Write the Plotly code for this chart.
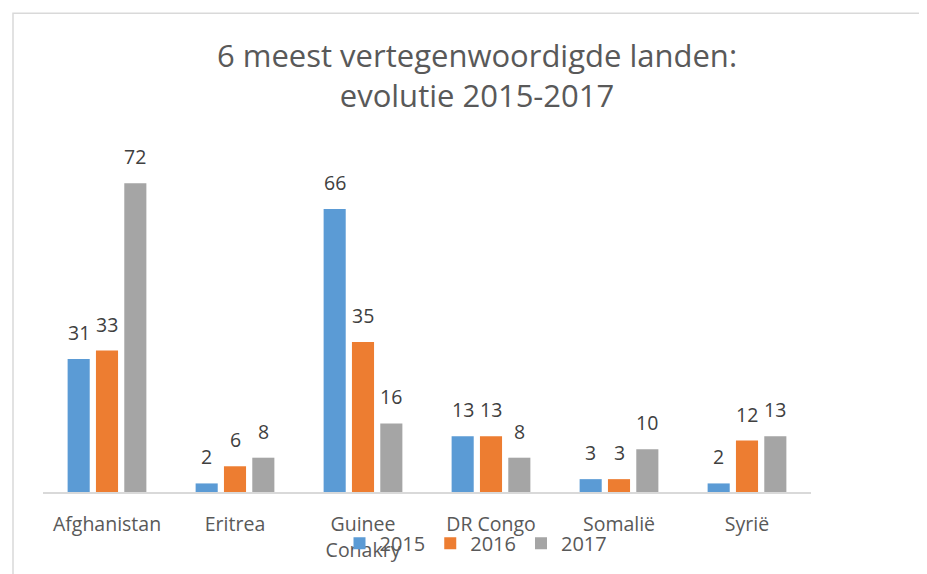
import plotly.graph_objects as go

categories = ["Afghanistan", "Eritrea", "Guinee<br>Conakry", "DR Congo", "Somalië", "Syrië"]
series_names = ["2015", "2016", "2017"]
values_2015 = [31, 2, 66, 13, 3, 2]
values_2016 = [33, 6, 35, 13, 3, 12]
values_2017 = [72, 8, 16, 8, 10, 13]
colors = ["#5B9BD5", "#ED7D31", "#A5A5A5"]

# page is rendered with an 8px body margin: figure coords = page coords - 8
OFF = 8
W, H = 927 - OFF, 574 - OFF
ml = 43 - OFF
plot_w = 768
mr = W - ml - plot_w
plot_h = 345
mb = H - (493.5 - OFF)
mt = H - mb - plot_h

bargap = 0.336
cat_px = plot_w / len(categories)
slot_px = cat_px * (1 - bargap) / len(series_names)

def px_to_paper_x(px):
    return (px - OFF - ml) / plot_w

def px_to_paper_y(py):
    return (H - mb - (py - OFF)) / plot_h

fig = go.Figure()
all_vals = [values_2015, values_2016, values_2017]
for name, vals, col in zip(series_names, all_vals, colors):
    fig.add_trace(go.Bar(
        x=categories, y=vals, name=name,
        marker=dict(color=col, line=dict(width=0)),
        cliponaxis=False,
    ))

# data labels above bars
annotations = []
for i, vals in enumerate(all_vals):
    for cat, v in zip(categories, vals):
        annotations.append(dict(
            x=cat, y=v, xref="x", yref="y", text=str(v), showarrow=False,
            xanchor="center", yanchor="bottom",
            xshift=(i - 1) * slot_px, yshift=11,
            font=dict(family="Open Sans", size=19.5, color="#404040"),
        ))

# chart border (outer frame)
fig.add_shape(type="rect", xref="paper", yref="paper",
              x0=px_to_paper_x(13), x1=px_to_paper_x(1100),
              y0=px_to_paper_y(800), y1=px_to_paper_y(12),
              line=dict(color="#D9D9D9", width=1.5), fillcolor="rgba(0,0,0,0)", layer="below")

fig.update_layout(
    width=W, height=H,
    margin=dict(l=ml, r=mr, t=mt, b=mb, pad=0),
    paper_bgcolor="white", plot_bgcolor="white",
    barmode="group", bargap=bargap, bargroupgap=0.22,
    annotations=annotations,
    title=dict(text="6 meest vertegenwoordigde landen:<br>evolutie 2015-2017",
               x=px_to_paper_x(477), xref="paper", xanchor="center",
               y=1 - 58.5 / H, yref="container", yanchor="middle",
               font=dict(family="Open Sans", size=31, color="#595959")),
    font=dict(family="Open Sans", color="#595959"),
    xaxis=dict(showline=True, linecolor="#D9D9D9", linewidth=2,
               ticks="outside", ticklen=14, tickcolor="rgba(0,0,0,0)",
               tickfont=dict(size=19.5, color="#595959"), showgrid=False),
    yaxis=dict(range=[0, 80], visible=False, showgrid=False),
    legend=dict(orientation="h", x=px_to_paper_x(476), xanchor="center",
                y=px_to_paper_y(544), yanchor="middle",
                font=dict(size=20, color="#595959"), bgcolor="rgba(0,0,0,0)",
                itemwidth=30, tracegroupgap=0),
    showlegend=True,
)

fig.write_html("out.html")
